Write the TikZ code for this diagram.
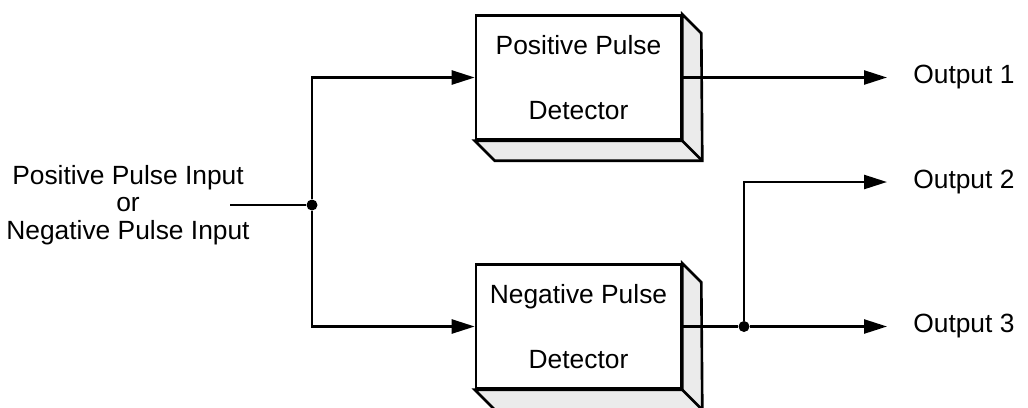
\documentclass[tikz,border=0pt]{standalone}
\usepackage{fontspec}
\setmainfont{Liberation Sans}
\usetikzlibrary{arrows.meta,positioning}

\begin{document}
\begin{tikzpicture}
  [x=0.02cm,y=-0.02cm,
   font=\fontsize{15}{15.5}\selectfont,
   detector/.style={draw,line width=1.5pt,fill=white,minimum width=4.1cm,minimum height=2.48cm,inner sep=0pt,align=center,font=\fontsize{15}{37}\selectfont},
   side/.style={draw,line width=1.5pt,fill=black!8},
   wire/.style={line width=1.4pt},
   to/.style={wire,-{Triangle[length=0.46cm,width=0.28cm]}},
   dot/.style={circle,fill,inner sep=0pt,minimum size=0.22cm},
   output/.style={anchor=west,inner xsep=0.52cm,inner ysep=0pt},]

  \useasboundingbox (0,0) rectangle (1028,407);

  \node[align=center] (input) at (128,205) {Positive Pulse Input\\or\\Negative Pulse Input};
  \coordinate (start) at (230,205);
  \node[dot] (split) at (312,205) {};

  \node[detector] (pos) at (578.5,77.5) {Positive Pulse\\Detector};
  \node[detector] (neg) at (578.5,326.5) {Negative Pulse\\Detector};

  % box depth
  \foreach \b in {pos,neg}{
    \draw[side] (\b.north east) -- ++(19,19) -- ([shift={(20,20)}]\b.south east)
      -- ([shift={(20,20)}]\b.south west) -- (\b.south west) -- (\b.south east) -- cycle;
    \draw[line width=1.5pt] (\b.south east) -- ++(20,20);
  }

  \node[output] (out1) at (887,77.5) {Output 1};
  \node[output] (out2) at (887,182) {Output 2};
  \node[output] (out3) at (887,326.5) {Output 3};
  \node[dot] (tap) at (744,326.5) {};

  \draw[wire] (start) -- (split);
  \draw[to] (split) |- (pos.west);
  \draw[to] (split) |- (neg.west);
  \draw[to] (pos.east) -- (out1);
  \draw[wire] (neg.east) -- (tap);
  \draw[to] (tap) -- (out3);
  \draw[to] (tap) |- (out2);

\end{tikzpicture}
\end{document}
